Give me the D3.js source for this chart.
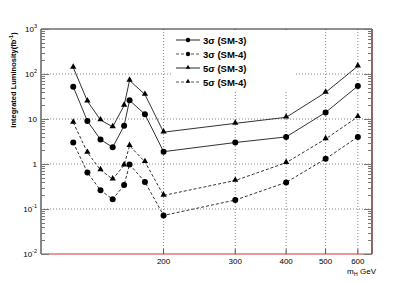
<!DOCTYPE html>
<html>
<head>
<meta charset="utf-8">
<script src="https://cdn.jsdelivr.net/npm/d3@7"></script>
<style>
  body { margin: 0; background: #fff; }
  svg { display: block; }
  text { font-family: "Liberation Sans", Arial, sans-serif; }
</style>
</head>
<body>
<svg width="415" height="283"></svg>
<script>
// Higgs mass points (GeV)
const masses = [120, 130, 140, 150, 160, 165, 180, 200, 300, 400, 500, 600];
// integrated luminosity needed (fb^-1)
const sig3SM3 = [52, 9.0, 3.5, 2.35, 7.1, 26, 12.7, 1.88, 3.0, 4.0, 14, 54];
const sig3SM4 = [3.0, 0.65, 0.26, 0.165, 0.34, 0.98, 0.40, 0.072, 0.158, 0.39, 1.3, 4.0];
const sig5SM3 = [140, 25, 9.5, 6.7, 20, 72, 35, 5.1, 8.0, 10.9, 39, 150];
const sig5SM4 = [8.4, 1.8, 0.74, 0.46, 0.94, 2.55, 1.12, 0.2, 0.43, 1.07, 3.6, 11.2];
const xTicks = [200, 300, 400, 500, 600];
const yDecades = [-2, -1, 0, 1, 2, 3];

const series = [
  {name: "3σ (SM-3)", vals: sig3SM3, marker: "circle", dash: null},
  {name: "3σ (SM-4)", vals: sig3SM4, marker: "circle", dash: "3,2"},
  {name: "5σ (SM-3)", vals: sig5SM3, marker: "triangle", dash: null},
  {name: "5σ (SM-4)", vals: sig5SM4, marker: "triangle", dash: "3,2"}
];

const svg = d3.select("svg");
const L = 41, R = 372, T = 29, B = 254;

const x = d3.scaleLog().domain([100, 650]).range([L, R]);
const y = d3.scaleLog().domain([0.01, 1000]).range([B, T]);

// grid (dotted)
const grid = svg.append("g");
grid.selectAll(".gx").data(xTicks).enter().append("line")
  .attr("x1", d => x(d)).attr("x2", d => x(d))
  .attr("y1", T).attr("y2", B)
  .attr("stroke", "#888").attr("stroke-width", 1).attr("stroke-dasharray", "1,2");
grid.selectAll(".gy").data([0.1, 1, 10, 100]).enter().append("line")
  .attr("x1", L).attr("x2", R)
  .attr("y1", d => y(d)).attr("y2", d => y(d))
  .attr("stroke", "#888").attr("stroke-width", 1).attr("stroke-dasharray", "1,2");

// frame
svg.append("line").attr("x1", L).attr("x2", R).attr("y1", T).attr("y2", T)
  .attr("stroke", "#222").attr("stroke-width", 1);
svg.append("line").attr("x1", R).attr("x2", R).attr("y1", T).attr("y2", B)
  .attr("stroke", "#400").attr("stroke-width", 1.2);
svg.append("line").attr("x1", L).attr("x2", R).attr("y1", B).attr("y2", B)
  .attr("stroke", "#c33").attr("stroke-width", 1);
svg.append("line").attr("x1", L).attr("x2", L).attr("y1", T).attr("y2", B)
  .attr("stroke", "#888").attr("stroke-width", 2);

// y ticks, major + minor on both sides
let yt = [];
yDecades.forEach(e => {
  for (let m = 1; m <= 9; m++) {
    const v = m * Math.pow(10, e);
    if (v <= 1000.0001) yt.push({v: v, major: m === 1});
  }
});
const ticks = svg.append("g").attr("stroke", "#777").attr("stroke-width", 1);
ticks.selectAll(".tl").data(yt).enter().append("line")
  .attr("x1", L).attr("x2", d => L + (d.major ? 8 : 4))
  .attr("y1", d => Math.round(y(d.v)) + 0.5).attr("y2", d => Math.round(y(d.v)) + 0.5);
ticks.selectAll(".tr").data(yt).enter().append("line")
  .attr("x1", R).attr("x2", d => R - (d.major ? 8 : 4))
  .attr("y1", d => Math.round(y(d.v)) + 0.5).attr("y2", d => Math.round(y(d.v)) + 0.5);
ticks.selectAll(".tb").data(xTicks).enter().append("line")
  .attr("x1", d => x(d)).attr("x2", d => x(d))
  .attr("y1", B).attr("y2", B - 5).attr("stroke", "#555");

// y tick labels
const yl = svg.append("g").attr("font-size", 8).attr("text-anchor", "end");
yDecades.forEach(e => {
  const t = yl.append("text").attr("x", 37).attr("y", y(Math.pow(10, e)) + 3);
  if (e === 0) t.text("1");
  else if (e === 1) t.text("10");
  else {
    t.append("tspan").text("10");
    t.append("tspan").attr("font-size", 5.5).attr("dy", -4).text(e);
  }
});

// x tick labels
svg.append("g").selectAll("text").data(xTicks).enter().append("text")
  .attr("x", d => x(d)).attr("y", 264).attr("text-anchor", "middle")
  .attr("font-size", 8).text(d => d);

// axis titles
const xt = svg.append("text").attr("x", 376).attr("y", 274).attr("text-anchor", "end").attr("font-size", 8);
xt.append("tspan").text("m");
xt.append("tspan").attr("font-size", 5.5).attr("dy", 2).text("H");
xt.append("tspan").attr("dy", -2).text(" GeV");

const ytl = svg.append("text").attr("transform", "translate(16,80) rotate(-90)")
  .attr("text-anchor", "middle").attr("font-size", 7.5).attr("font-weight", "bold");
ytl.append("tspan").text("Integrated Luminosity(fb");
ytl.append("tspan").attr("font-size", 5.5).attr("dy", -3).text("-1");
ytl.append("tspan").attr("dy", 3).text(")");

// legend box (white, hides grid)
svg.append("rect").attr("x", 172).attr("y", 30).attr("width", 124).attr("height", 60).attr("fill", "#fff");

function drawMarker(g, kind, cx, cy, s) {
  if (kind === "circle") {
    g.append("circle").attr("cx", cx).attr("cy", cy).attr("r", s).attr("fill", "#000");
  } else {
    g.append("path").attr("d", d3.symbol().type(d3.symbolTriangle).size(s)())
      .attr("transform", `translate(${cx},${cy - 0.5})`).attr("fill", "#000");
  }
}

// lines and markers
const line = d3.line().x(d => x(d.m)).y(d => y(d.v));
series.forEach(s => {
  const pts = masses.map((m, i) => ({m: m, v: s.vals[i]}));
  svg.append("path").datum(pts).attr("d", line)
    .attr("fill", "none").attr("stroke", "#333").attr("stroke-width", 1)
    .attr("stroke-dasharray", s.dash);
  const g = svg.append("g");
  pts.forEach(p => drawMarker(g, s.marker, x(p.m), y(p.v), s.marker === "circle" ? 3 : 17));
});

// legend entries
const ly = [40, 54, 68, 82];
series.forEach((s, i) => {
  const g = svg.append("g");
  g.append("line").attr("x1", 176).attr("x2", 200).attr("y1", ly[i]).attr("y2", ly[i])
    .attr("stroke", s.dash ? "#555" : "#777").attr("stroke-width", s.dash ? 1 : 1.6)
    .attr("stroke-dasharray", s.dash);
  drawMarker(g, s.marker, 188, ly[i], s.marker === "circle" ? 2.2 : 9);
  g.append("text").attr("x", 203).attr("y", ly[i] + 3.5).attr("font-size", 9.5)
    .attr("font-weight", "bold").attr("font-family", "DejaVu Sans").text(s.name);
});
</script>
</body>
</html>
